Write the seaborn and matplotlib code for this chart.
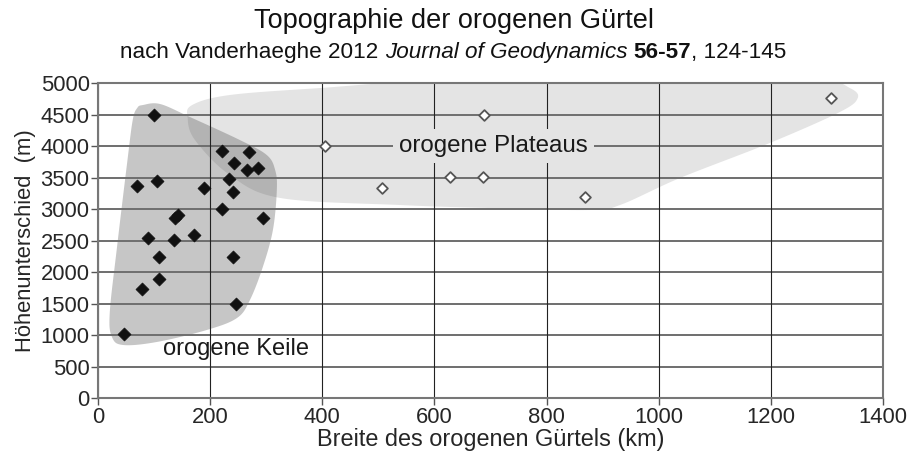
import numpy as np
import pandas as pd
import matplotlib
matplotlib.use("Agg")
import matplotlib.pyplot as plt
import seaborn as sns

# Orogenic wedges (filled diamonds): belt width (km) and relief (m)
keile_breite = [100, 222, 269, 243, 265, 285, 234, 240, 189, 105, 70, 221,
                294, 138, 142, 89, 136, 171, 109, 240, 108, 78, 246, 47]
keile_hoehe = [4500, 3925, 3910, 3735, 3620, 3650, 3480, 3275, 3335, 3455, 3365, 3000,
               2860, 2860, 2910, 2550, 2515, 2590, 2240, 2240, 1895, 1730, 1500, 1020]

# Orogenic plateaus (open diamonds)
plateau_breite = [1308, 688, 405, 506, 628, 686, 868]
plateau_hoehe = [4770, 4500, 4010, 3345, 3505, 3505, 3200]

# Outlines of the two shaded fields (km, m)
keile_umriss_x = [80, 111, 164, 253, 301, 316, 319, 312, 294, 271, 248, 194,
                  105, 45, 25, 21, 34, 52, 62, 70]
keile_umriss_y = [4655, 4671, 4465, 4100, 3862, 3624, 3306, 2671, 2084, 1560, 1275, 1084,
                  894, 846, 973, 1354, 2402, 3735, 4417, 4608]
plateau_umriss_x = [160, 168, 235, 396, 628, 1100, 1288, 1341, 1355, 1323, 1198, 1038,
                    931, 877, 700, 539, 325, 235, 173]
plateau_umriss_y = [4449, 4655, 4814, 4925, 5050, 5080, 5060, 4925, 4767, 4544, 4052, 3497,
                    3068, 2989, 3020, 3068, 3180, 3545, 4100]

x_ticks = list(range(0, 1401, 200))
y_ticks = list(range(0, 5001, 500))

titel = "Topographie der orogenen Gürtel"
untertitel = [("nach Vanderhaeghe 2012 ", "normal", "normal"),
              ("Journal of Geodynamics", "italic", "normal"),
              (" ", "normal", "normal"),
              ("56-57", "normal", "bold"),
              (", 124-145", "normal", "normal")]


def closed_curve(xs, ys, n=24):
    """Closed Catmull-Rom curve through the outline points."""
    p = np.column_stack([xs, ys]).astype(float)
    m = len(p)
    t = np.linspace(0, 1, n, endpoint=False)[:, None]
    out = []
    for i in range(m):
        p0, p1, p2, p3 = p[i - 1], p[i], p[(i + 1) % m], p[(i + 2) % m]
        seg = 0.5 * ((2 * p1) + (-p0 + p2) * t + (2 * p0 - 5 * p1 + 4 * p2 - p3) * t ** 2
                     + (-p0 + 3 * p1 - 3 * p2 + p3) * t ** 3)
        out.append(seg)
    out = np.vstack(out)
    return out[:, 0], out[:, 1]


sns.set_theme(style="white")
plt.rcParams["font.family"] = ["Liberation Sans", "DejaVu Sans"]

fig = plt.figure(figsize=(9.07, 4.54), dpi=100)
ax = fig.add_axes([0.108, 0.1227, 0.8655, 0.6938])

# shaded fields
px, py = closed_curve(plateau_umriss_x, plateau_umriss_y)
ax.fill(px, py, color="#e4e4e4", lw=0, zorder=0.5)
kx, ky = closed_curve(keile_umriss_x, keile_umriss_y)
ax.fill(kx, ky, color="#444444", alpha=0.3, lw=0, zorder=0.6)

df_k = pd.DataFrame({"breite": keile_breite, "hoehe": keile_hoehe})
df_p = pd.DataFrame({"breite": plateau_breite, "hoehe": plateau_hoehe})

sns.scatterplot(data=df_k, x="breite", y="hoehe", marker="D", s=44,
                color="#111111", edgecolor="#111111", linewidth=0.5,
                ax=ax, zorder=3, legend=False)
sns.scatterplot(data=df_p, x="breite", y="hoehe", marker="D", s=30,
                color="white", edgecolor="#555555", linewidth=1.3,
                ax=ax, zorder=3, legend=False)

ax.set_xlim(0, 1400)
ax.set_ylim(0, 5000)
ax.set_xticks(x_ticks)
ax.set_yticks(y_ticks)
ax.tick_params(axis="both", which="both", direction="out", length=5, width=1,
               color="#555555", labelsize=15.8, pad=1, left=True, bottom=True)

# grid: grey horizontals, thin dark verticals
for yv in y_ticks:
    ax.axhline(yv, color="#6e6e6e", lw=1.4, zorder=1)
for xv in x_ticks:
    ax.axvline(xv, color="#222222", lw=0.8, zorder=1)

for side in ["left", "bottom", "top", "right"]:
    ax.spines[side].set_visible(True)
    ax.spines[side].set_color("#777777")
    ax.spines[side].set_linewidth(1.5)
    ax.spines[side].set_zorder(2)

ax.set_xlabel("Breite des orogenen Gürtels (km)", fontsize=16.9, labelpad=0)
ax.set_ylabel("Höhenunterschied  (m)", fontsize=15.8, labelpad=3)

ax.text(247, 775, "orogene Keile", fontsize=17, ha="center", va="center",
        color="#1a1a1a", zorder=4)
ax.text(705, 4010, "orogene Plateaus", fontsize=17.4, ha="center", va="center",
        color="#1a1a1a", zorder=4,
        bbox=dict(boxstyle="square,pad=0.25", facecolor="#e4e4e4", edgecolor="none"))

fig.text(0.5, 0.953, titel, fontsize=19.5, ha="center", va="center", color="#111111")

# subtitle assembled from styled pieces, centred as a whole
renderer = fig.canvas.get_renderer()
teile = []
for txt, stil, gewicht in untertitel:
    t = fig.text(0, 0.885, txt, fontsize=16.2, style=stil, weight=gewicht,
                 ha="left", va="center", color="#111111")
    teile.append(t)
breiten = [t.get_window_extent(renderer).width for t in teile]
gesamt = sum(breiten)
x0 = (fig.bbox.width - gesamt) / 2
for t, b in zip(teile, breiten):
    t.set_x(x0 / fig.bbox.width)
    x0 += b

fig.savefig("out.png", dpi=100)
